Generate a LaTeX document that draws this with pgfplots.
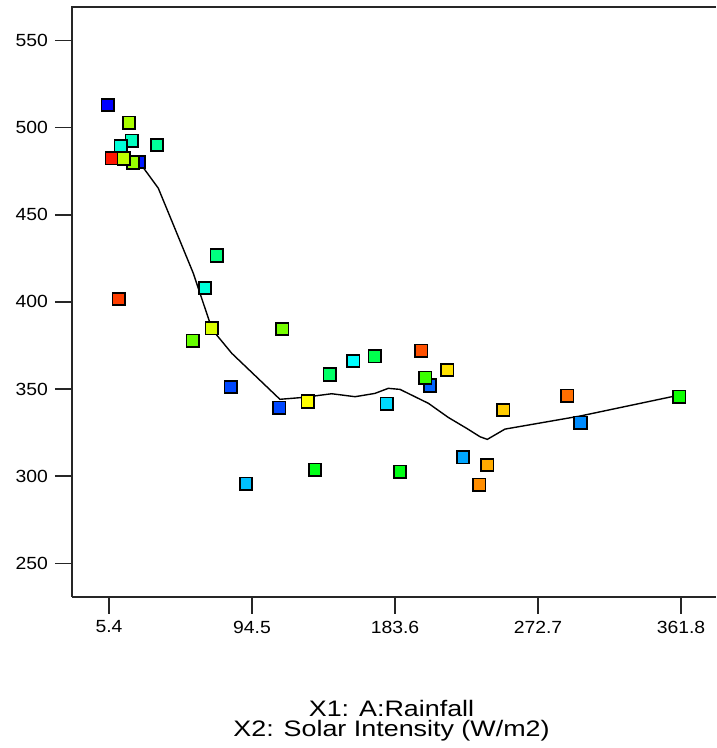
\documentclass[border=0pt]{standalone}
\usepackage{fontspec}
\setmainfont{Liberation Sans}
\newfontfamily\tickfont[FakeStretch=1.1]{Liberation Sans}
\newfontfamily\labfont[FakeStretch=1.2]{Liberation Sans}
\usepackage{pgfplots}
\usepackage{pgfplotstable}
\pgfplotsset{compat=1.18}
\pgfplotstableread{
x y c
4.6 513.1 0.0
17.9 502.9 2.67
19.5 492.6 1.25
12.7 489.6 1.15
35.3 490.0 1.4
7.1 482.5 3.92
23.8 480.4 0.1
20.4 480.0 2.6
14.6 482.3 2.75
72.5 426.6 1.5
65.2 407.9 1.14
11.4 401.7 3.76
69.4 384.9 2.86
57.5 377.8 2.4
113.4 384.5 2.47
81.2 351.2 0.28
111.5 339.3 0.28
129.2 342.8 3.0
142.9 358.3 1.6
157.6 366.1 1.0
171.0 368.8 1.7
200.0 372.0 3.69
205.4 352.0 0.4
202.5 356.5 2.23
216.2 361.0 3.12
178.4 341.6 0.86
133.7 303.7 1.92
186.7 302.6 1.92
90.8 295.7 0.75
226.0 310.8 0.65
241.1 306.4 3.33
236.1 295.1 3.45
251.1 338.0 3.2
290.9 346.2 3.57
299.2 330.7 0.55
360.7 345.6 2.05
}\pts
\pgfplotstableread{
x y
5.6 480.5
16.4 481.0
24.7 479.7
36.1 465.3
43.4 449.0
57.9 416.5
69.4 384.9
72.5 381.0
81.9 370.5
111.9 344.1
126.5 345.2
144.2 347.3
158.7 345.6
171.1 347.5
179.4 350.4
186.7 349.8
204.4 341.8
216.8 333.7
228.3 327.4
236.6 322.6
241.1 321.1
252.1 327.0
298.9 334.5
361.2 346.6
}\fit
\begin{document}
\begin{tikzpicture}
\useasboundingbox (0,0) rectangle (358pt,374pt);
\begin{axis}[
  at={(36pt,75.65pt)}, anchor=south west,
  scale only axis, width=322pt, height=294.85pt,
  xmin=-17.65, xmax=383.6, ymin=230.8, ymax=569.3,
  axis x line*=bottom, axis y line*=left,
  axis line style={-, line width=1pt, black!85},
  xtick={5.4,94.5,183.6,272.7,361.8},
  xticklabels={5.4,94.5,183.6,272.7,361.8},
  ytick={250,300,350,400,450,500,550},
  tick align=outside,
  major tick length=8.5pt,
  every tick/.style={black!85, line width=0.7pt},
  tick label style={font=\tickfont\fontsize{8.8}{10}\selectfont},
  /pgf/number format/assume math mode=true,
  colormap={hsvjet}{rgb255=(0,0,255) rgb255=(0,255,255) rgb255=(0,255,0) rgb255=(255,255,0) rgb255=(255,0,0)},
  point meta min=0, point meta max=4,
]
\addplot[scatter, only marks, mark=square*, mark size=3.1pt,
  scatter/use mapped color={draw=black, fill=mapped color},
  mark options={line width=0.9pt}, point meta=explicit]
  table[x=x, y=y, meta=c] {\pts};
\addplot[black, line width=0.7pt, no marks] table[x=x, y=y] {\fit};
\end{axis}
\draw[line width=1pt, black!85] ([xshift=-0.5pt]current axis.north west) -- (current axis.north east);
\node[anchor=base, font=\labfont\fontsize{11.2}{12}\selectfont] at (195.75pt,15.65pt) {X1: A:Rainfall};
\node[anchor=base, font=\labfont\fontsize{11.2}{12}\selectfont] at (195.75pt,5.65pt) {X2: Solar Intensity (W/m2)};
\end{tikzpicture}
\end{document}
